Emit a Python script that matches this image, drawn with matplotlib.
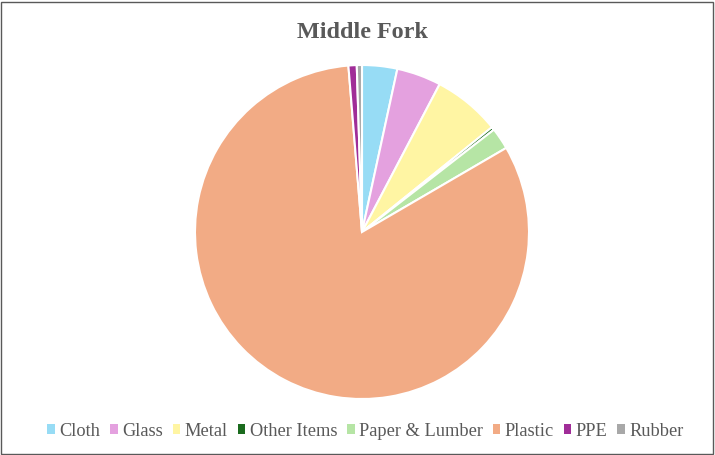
import matplotlib
matplotlib.use("Agg")
import matplotlib.pyplot as plt
from matplotlib.patches import Rectangle

categories = ["Cloth", "Glass", "Metal", "Other Items", "Paper & Lumber", "Plastic", "PPE", "Rubber"]
values = [3.4, 4.3, 6.5, 0.3, 2.1, 82.1, 0.8, 0.5]
colors = ["#97DCF5", "#E4A1DF", "#FFF5A3", "#1B6B1E", "#B6E5A5", "#F2AB85", "#A02D98", "#A8A8A8"]

plt.rcParams["font.family"] = "serif"
plt.rcParams["font.serif"] = ["Liberation Serif", "DejaVu Serif"]

W, H = 715, 455
fig = plt.figure(figsize=(W / 100, H / 100), dpi=100)
fig.patches.append(Rectangle((0.002, 0.003), 0.995, 0.993, transform=fig.transFigure,
                             fill=False, edgecolor="#595959", linewidth=1.0))

ax = fig.add_axes([0.0, 0.0, 1.0, 1.0])
wedges, _ = ax.pie(values, colors=colors, startangle=90, counterclock=False,
                   center=(362, H - 232), radius=167, frame=True,
                   wedgeprops=dict(edgecolor="white", linewidth=1.5))
ax.set_xlim(0, W)
ax.set_ylim(0, H)
ax.set_aspect("equal")
ax.axis("off")

ax.text(362.5, H - 33, "Middle Fork", ha="center", va="center", fontsize=17.4,
        fontweight="bold", color="#595959")

leg = fig.legend(wedges, categories, loc="center", bbox_to_anchor=(365.5 / W, 1 - 431 / H),
                 ncol=len(categories), frameon=False, fontsize=13.2,
                 handlelength=0.42, handleheight=0.42, handletextpad=0.25,
                 columnspacing=0.52, labelcolor="#595959")
for h in leg.legend_handles:
    h.set_edgecolor("none")

fig.savefig("out.png", dpi=100)
